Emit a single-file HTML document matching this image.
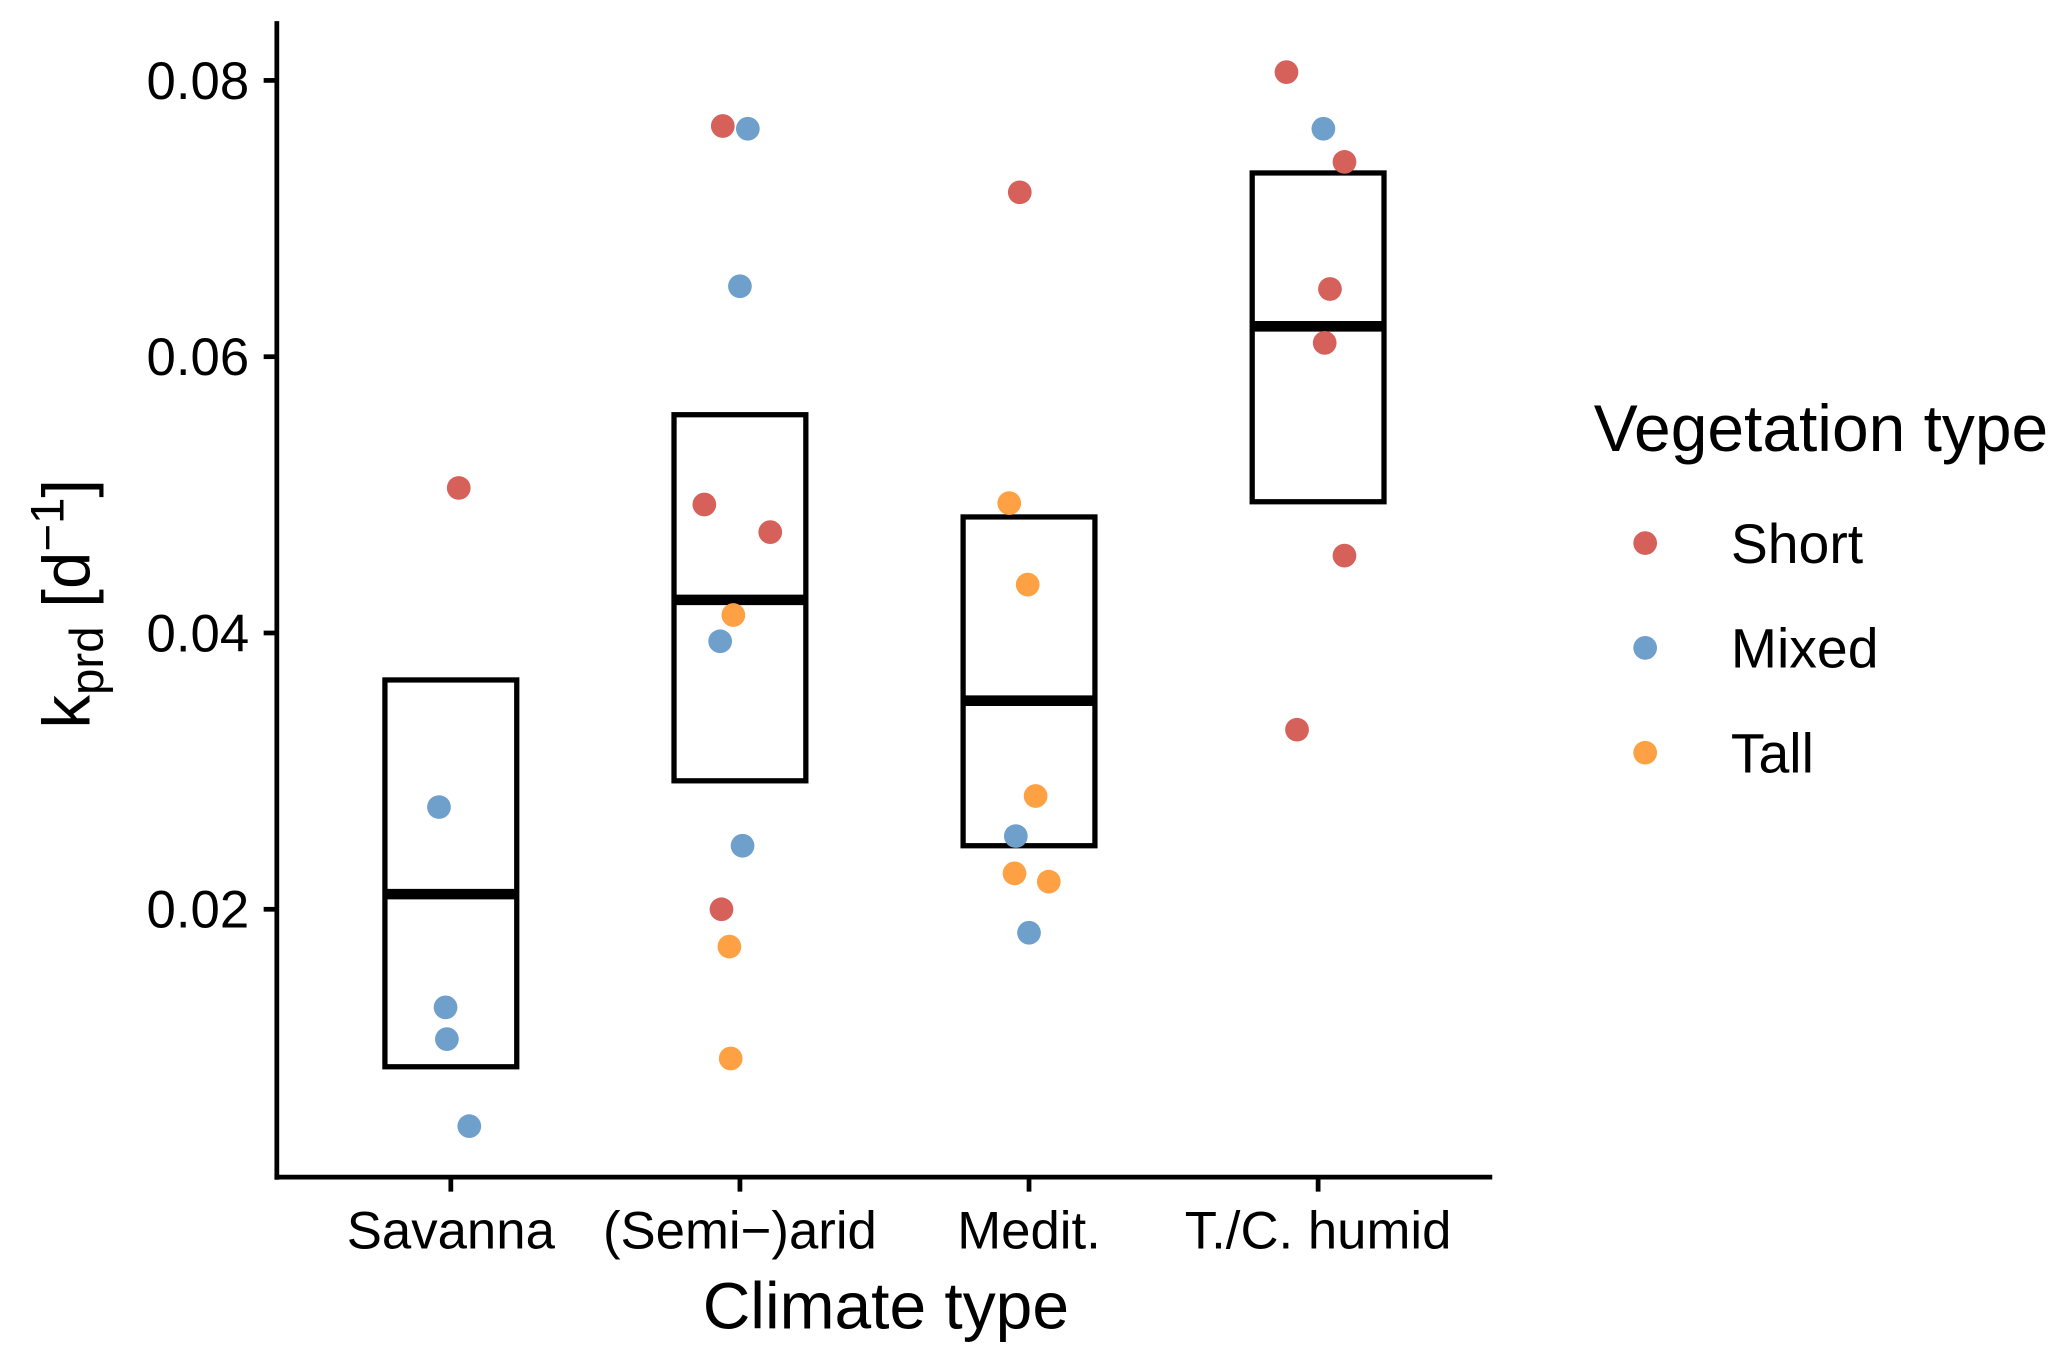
<!DOCTYPE html>
<html><head><meta charset="utf-8"><style>
html,body{margin:0;padding:0;background:#fff;}
svg{display:block;font-family:"Liberation Sans",Arial,sans-serif;}
</style></head><body>
<svg id="chart" width="2067" height="1363" viewBox="0 0 1568 1034" preserveAspectRatio="none" xmlns="http://www.w3.org/2000/svg">
<g id="plot"></g>
<g id="legend">
<text x="1209" y="342" font-size="50" fill="#000">Vegetation type</text>
</g>
<text x="672" y="1008" font-size="50" text-anchor="middle" fill="#000">Climate type</text>
<text transform="translate(68,458) rotate(-90)" font-size="51" text-anchor="middle" fill="#000">k<tspan font-size="36" dy="10">prd</tspan><tspan dy="-10"> [d</tspan><tspan font-size="36" dy="-20">−1</tspan><tspan dy="20">]</tspan></text>
</svg>
<script>
const categories = ["Savanna","(Semi−)arid","Medit.","T./C. humid"];
const yTicks = [0.02,0.04,0.06,0.08];
const yTickLabels = ["0.02","0.04","0.06","0.08"];
const boxLower = [0.0086,0.0293,0.0246,0.0495];
const boxMedian = [0.0211,0.0424,0.0351,0.0622];
const boxUpper = [0.0366,0.0558,0.0484,0.0733];
const vegTypes = ["Short","Mixed","Tall"];
const vegColors = ["#D6605A","#6FA0CC","#FDA144"];
const pointCat = [0,0,0,0,0, 1,1,1,1,1,1,1,1,1,1,1, 2,2,2,2,2,2,2,2, 3,3,3,3,3,3,3];
const pointVeg = [0,1,1,1,1, 0,1,1,0,0,2,1,1,0,2,2, 0,2,2,2,1,2,2,1, 0,1,0,0,0,0,0];
const pointValue = [0.0505,0.0274,0.0129,0.0106,0.0043, 0.0767,0.0765,0.0651,0.0493,0.0473,0.0413,0.0394,0.0246,0.0200,0.0173,0.0092, 0.0719,0.0494,0.0435,0.0282,0.0253,0.0226,0.0220,0.0183, 0.0806,0.0765,0.0741,0.0649,0.0610,0.0456,0.0330];
const pointJitter = [6,-9,-4,-3,14, -13,6,0,-27,23,-5,-15,2,-14,-8,-7, -7,-15,-1,5,-10,-11,15,0, -24,4,20,9,5,20,-16];

const NS="http://www.w3.org/2000/svg";
const plot=document.getElementById('plot');
const legend=document.getElementById('legend');
const yScale=v=>61+(0.08-v)*(209.6/0.02);
const xScale=i=>342+i*219.3;
function mk(tag,attrs,parent){const e=document.createElementNS(NS,tag);for(const k in attrs)e.setAttribute(k,attrs[k]);parent.appendChild(e);return e;}

let ax=mk('line',{x1:210,y1:16,x2:210,y2:895,stroke:'#000','stroke-width':3.6},plot);


let bx=mk('line',{x1:208.2,y1:893,x2:1132,y2:893,stroke:'#000','stroke-width':3.6},plot);



yTicks.forEach((t,i)=>{
  const y=yScale(t);
  const tk=mk('line',{x1:200,y1:y,x2:210,y2:y,stroke:'#000','stroke-width':3.6},plot);
  
  
  const tx=mk('text',{x:189,y:y+14,'font-size':40,'text-anchor':'end',fill:'#000'},plot);
  tx.textContent=yTickLabels[i];
  
  
});
categories.forEach((c,i)=>{
  const x=xScale(i);
  const tk=mk('line',{x1:x,y1:893,x2:x,y2:904,stroke:'#000','stroke-width':3.6},plot);
  
  
  const tx=mk('text',{x:x,y:947,'font-size':40,'text-anchor':'middle',fill:'#000'},plot);
  tx.textContent=c;
  
  
  const yu=yScale(boxUpper[i]), yl=yScale(boxLower[i]), ym=yScale(boxMedian[i]);
  const r=mk('rect',{x:x-50,y:yu,width:100,height:yl-yu,fill:'none',stroke:'#000','stroke-width':4},plot);
  
  
  const m=mk('line',{x1:x-50,y1:ym,x2:x+50,y2:ym,stroke:'#000','stroke-width':8},plot);
  
  
});
pointValue.forEach((v,i)=>{
  const p=mk('circle',{cx:xScale(pointCat[i])+pointJitter[i],cy:yScale(v),r:9,fill:vegColors[pointVeg[i]]},plot);
  
  
});
vegTypes.forEach((t,i)=>{
  const y=412+i*79.5;
  const d=mk('circle',{cx:1248,cy:y,r:9,fill:vegColors[i]},legend);
  
  
  const tx=mk('text',{x:1313,y:y+15,'font-size':42,fill:'#000'},legend);
  tx.textContent=t;
  
  
});
</script>
</body></html>
